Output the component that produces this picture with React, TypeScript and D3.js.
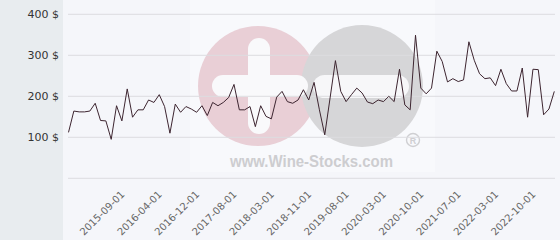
import React from "react";
import * as d3 from "d3";

const prices = [
  112, 164, 162, 162, 164, 183, 141, 140, 95, 177, 140, 218, 149, 167, 167,
  191, 185, 204, 175, 110, 181, 161, 175, 169, 161, 177, 153, 185, 177, 185,
  197, 229, 167, 167, 175, 126, 177, 151, 145, 198, 212, 187, 183, 191, 216,
  191, 234, 167, 106, 196, 287, 212, 187, 204, 220, 208, 186, 182, 191, 187,
  200, 187, 266, 179, 167, 349, 220, 206, 220, 310, 285, 235, 243, 236, 240,
  333, 288, 255, 243, 245, 226, 266, 231, 213, 213, 269, 149, 266, 265, 155,
  169, 212,
];

const tickLabels = [
  "2015-09-01", "2016-04-01", "2016-12-01", "2017-08-01", "2018-03-01",
  "2018-11-01", "2019-08-01", "2020-03-01", "2020-10-01", "2021-07-01",
  "2022-03-01", "2022-10-01",
];
const firstLabelIndex = 11;
const labelEvery = 7;

const yTicks = [100, 200, 300, 400];
const yGrid = [0, 100, 200, 300, 400];

export default function App() {
  const W = 560;
  const H = 240;
  const x = d3.scaleLinear().domain([0, prices.length - 1]).range([68.5, 554.3]);
  const y = d3.scaleLinear().domain([0, 400]).range([178.3, 14.3]);
  const line = d3
    .line<number>()
    .x((_, i) => x(i))
    .y((d) => y(d));

  return (
    <div style={{ position: "absolute", left: 0, top: 0 }}>
      <svg width={W} height={H} style={{ display: "block" }}>
        <rect x={0} y={0} width={W} height={H} fill="#f5f6fa" />
        <rect x={0} y={0} width={63} height={H} fill="#e8ecef" />
        {/* watermark */}
        <g>
          <rect x={190} y={0} width={245} height={172} fill="#ffffff" opacity={0.35} />
          <circle cx={258} cy={86} r={60} fill="#e9cfd6" />
          <rect x={248} y={38} width={22} height={96} rx={11} fill="#f9f9fb" />
          <circle cx={362} cy={86} r={61} fill="#d6d6d8" />
          <rect x={212} y={75} width={96} height={22} rx={11} fill="#f9f9fb" />
          <rect x={313} y={75} width={96} height={23} rx={11.5} fill="#f7f7f9" />
          <circle cx={413} cy={140} r={6.5} fill="none" stroke="#cfcfd2" strokeWidth={1.4} />
          <text x={413} y={143.5} fontSize={9} fontFamily="Liberation Sans, Arial, sans-serif" fontWeight="bold" fill="#cfcfd2" textAnchor="middle">R</text>
          <text
            x={230}
            y={167}
            fontSize={16}
            fontFamily="Liberation Sans, Arial, sans-serif"
            fontWeight="bold"
            fill="#cdcdd0"
            textLength={163}
            lengthAdjust="spacingAndGlyphs"
          >
            www.Wine-Stocks.com
          </text>
        </g>
        {yGrid.map((v) => (
          <line key={v} x1={68} x2={555} y1={y(v)} y2={y(v)} stroke="#dcdde0" strokeWidth={1} />
        ))}
        {yTicks.map((v) => (
          <text
            key={v}
            x={59}
            y={y(v)}
            dy="0.35em"
            textAnchor="end"
            fontSize={11}
            fontFamily="DejaVu Sans, Verdana, sans-serif"
            fill="#333333"
          >
            {v} $
          </text>
        ))}
        {tickLabels.map((t, k) => {
          const xi = x(firstLabelIndex + k * labelEvery);
          return (
            <text
              key={t}
              transform={`translate(${xi - 2},${195}) rotate(-45)`}
              textAnchor="end"
              fontSize={10}
              fontFamily="DejaVu Sans, Verdana, sans-serif"
              fill="#666666"
            >
              {t}
            </text>
          );
        })}
        <path d={line(prices) || ""} fill="none" stroke="#3d2530" strokeWidth={1} strokeLinejoin="round" />
      </svg>
    </div>
  );
}
